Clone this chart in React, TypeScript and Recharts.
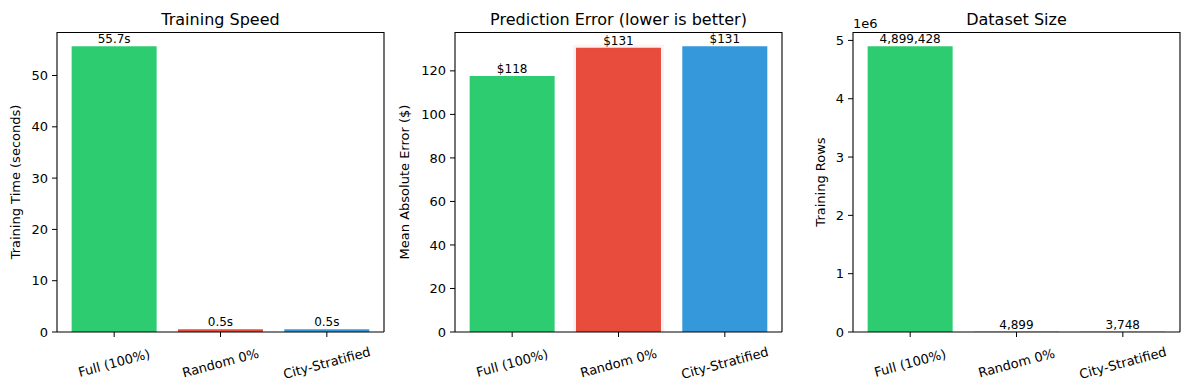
import React from 'react';
import { BarChart, Bar, XAxis, YAxis, Cell, LabelList } from 'recharts';

const categories = ['Full (100%)', 'Random 0%', 'City-Stratified'];
const barColors = ['#2ecc71', '#e74c3c', '#3498db'];
const trainTimes = [55.7, 0.54, 0.52];
const maeValues = [117.7, 130.6, 131.3];
const trainRows = [4899428, 4899, 3748];
const timeTicks = [0, 10, 20, 30, 40, 50];
const maeTicks = [0, 20, 40, 60, 80, 100, 120];
const rowTicks = [0, 1000000, 2000000, 3000000, 4000000, 5000000];

const FONT = 'DejaVu Sans, Verdana, sans-serif';

const timeData = categories.map((name, i) => ({ name, value: trainTimes[i], label: `${trainTimes[i].toFixed(1)}s` }));
const maeData = categories.map((name, i) => ({ name, value: maeValues[i], label: `$${Math.round(maeValues[i])}` }));
const rowData = categories.map((name, i) => ({ name, value: trainRows[i], label: trainRows[i].toLocaleString('en-US') }));

const RotTick = (props: any) => {
  const { x, y, payload } = props;
  const cy = y + 24;
  return (
    <text x={x} y={cy} textAnchor="middle" dominantBaseline="central" transform={`rotate(-15 ${x} ${cy})`} fontSize={13} fill="#000" fontFamily={FONT}>
      {payload.value}
    </text>
  );
};

type PanelProps = {
  data: { name: string; value: number; label: string }[];
  ticks: number[];
  left: number;
  width: number;
  yWidth: number;
  rightMargin: number;
  tickFmt?: (v: number) => string;
  glowIndex?: number;
};

const Panel = ({ data, ticks, left, width, yWidth, rightMargin, tickFmt, glowIndex }: PanelProps) => {
  const maxV = Math.max(...data.map(d => d.value)) * 1.05;
  return (
    <div style={{ position: 'absolute', left, top: 0 }}>
      <BarChart width={width} height={390} data={data} margin={{ top: 32, right: rightMargin, bottom: 8, left: 0 }} barCategoryGap="10%">
        <XAxis dataKey="name" height={50} tick={<RotTick />} tickSize={5} tickLine={{ stroke: '#000' }} axisLine={{ stroke: '#000', strokeWidth: 1.1 }} padding={{ left: 4, right: 4 }} interval={0} />
        <YAxis type="number" domain={[0, maxV]} ticks={ticks} width={yWidth} tickSize={5} tickMargin={4} tickLine={{ stroke: '#000' }} axisLine={{ stroke: '#000', strokeWidth: 1.1 }} tick={{ fill: '#000', fontSize: 13, fontFamily: FONT }} tickFormatter={tickFmt} allowDataOverflow />
        <Bar dataKey="value" isAnimationActive={false}>
          {data.map((d, i) => (
            <Cell key={d.name} fill={barColors[i]} stroke={i === glowIndex ? '#e74c3c' : 'none'} strokeOpacity={0.07} strokeWidth={i === glowIndex ? 6 : 0} />
          ))}
          <LabelList dataKey="label" position="top" offset={3} fill="#000" fontSize={12} fontFamily={FONT} />
        </Bar>
      </BarChart>
    </div>
  );
};

const frames = [
  { x: 57, w: 327 },
  { x: 455, w: 327 },
  { x: 853, w: 327 },
];

export default function App() {
  return (
    <div style={{ position: 'fixed', left: 0, top: 0, width: 1189, height: 390, background: '#fff' }}>
      <Panel data={timeData} ticks={timeTicks} left={0} width={400} yWidth={57} rightMargin={16} />
      <Panel data={maeData} ticks={maeTicks} left={390} width={400} yWidth={65} rightMargin={8} glowIndex={1} />
      <Panel data={rowData} ticks={rowTicks} left={790} width={399} yWidth={63} rightMargin={9} tickFmt={(v: number) => String(v / 1000000)} />
      <svg width={1189} height={390} style={{ position: 'absolute', left: 0, top: 0, pointerEvents: 'none' }}>
        {frames.map((f, i) => (
          <path key={i} d={`M${f.x},32.5 H${f.x + f.w} V332`} fill="none" stroke="#000" strokeWidth={1.1} />
        ))}
        <g fontFamily={FONT} fill="#000">
          <text x={220.5} y={24.5} textAnchor="middle" fontSize={16}>Training Speed</text>
          <text x={618.5} y={24.5} textAnchor="middle" fontSize={16}>Prediction Error (lower is better)</text>
          <text x={1016.5} y={24.5} textAnchor="middle" fontSize={16}>Dataset Size</text>
          <text x={20} y={182} textAnchor="middle" fontSize={13} transform="rotate(-90 20 182)">Training Time (seconds)</text>
          <text x={408.5} y={182} textAnchor="middle" fontSize={13} transform="rotate(-90 408.5 182)">Mean Absolute Error ($)</text>
          <text x={825} y={182} textAnchor="middle" fontSize={13} transform="rotate(-90 825 182)">Training Rows</text>
          <text x={853} y={28} textAnchor="start" fontSize={13}>1e6</text>
        </g>
      </svg>
    </div>
  );
}
